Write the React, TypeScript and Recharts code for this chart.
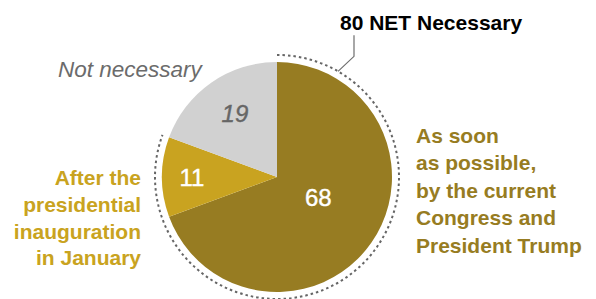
import React from 'react';
import { PieChart, Pie, Cell } from 'recharts';

const categories = ['As soon as possible, by the current Congress and President Trump', 'After the presidential inauguration in January', 'Not necessary'];
const values = [68, 11, 19];
const netNecessaryValue = 80;
const netLabel = `${netNecessaryValue} NET Necessary`;
const leftLabelLines = ['After the', 'presidential', 'inauguration', 'in January'];
const rightLabelLines = ['As soon', 'as possible,', 'by the current', 'Congress and', 'President Trump'];
const notNecessaryLabel = 'Not necessary';

const COLORS = ['#977c22', '#c9a320', '#d1d1d1'];
const LABEL_COLORS = ['#ffffff', '#ffffff', '#666666'];
const LABEL_ITALIC = [false, false, true];
const LABEL_R = [0.4, 0.74, 0.665];
const LABEL_ANGLE_ADJ = [9, 0, -1.5];

const FONT = '"Liberation Sans", Arial, sans-serif';

const data = categories.map((name, i) => ({ name, value: values[i] }));
const ringData = [
  { name: 'Necessary', value: values[0] + values[1], dotted: true },
  { name: 'Not necessary', value: values[2], dotted: false },
];

const RAD = Math.PI / 180;
const polar = (cx: number, cy: number, r: number, a: number) => ({
  x: cx + Math.cos(-a * RAD) * r,
  y: cy + Math.sin(-a * RAD) * r,
});

const renderSliceLabel = (props: any) => {
  const { cx, cy, midAngle, outerRadius, index, value } = props;
  const p = polar(cx, cy, outerRadius * LABEL_R[index], midAngle + LABEL_ANGLE_ADJ[index]);
  return (
    <text
      x={p.x}
      y={p.y}
      fill={LABEL_COLORS[index]}
      fontFamily={FONT}
      fontSize={24}
      fontStyle={LABEL_ITALIC[index] ? 'italic' : 'normal'}
      textAnchor="middle"
      dominantBaseline="central"
      stroke={LABEL_COLORS[index]}
      strokeWidth={0.4}
    >
      {value}
    </text>
  );
};

const DottedArc = (props: any) => {
  const { cx, cy, outerRadius, startAngle, endAngle, payload } = props;
  if (!payload || !payload.dotted) return <g />;
  const s = polar(cx, cy, outerRadius, startAngle);
  const e = polar(cx, cy, outerRadius, endAngle);
  const large = Math.abs(endAngle - startAngle) > 180 ? 1 : 0;
  const sweep = startAngle > endAngle ? 1 : 0;
  const lp = polar(cx, cy, outerRadius, 60);
  const elbow = { x: lp.x + 16, y: lp.y - 15 };
  return (
    <g>
      <path
        d={`M${s.x},${s.y} A${outerRadius},${outerRadius} 0 ${large} ${sweep} ${e.x},${e.y}`}
        fill="none"
        stroke="#666666"
        strokeWidth={2}
        strokeDasharray="2.5 3"
      />
      <polyline
        points={`${lp.x},${lp.y} ${elbow.x},${elbow.y} ${elbow.x},${elbow.y - 21}`}
        fill="none"
        stroke="#6e6e6e"
        strokeWidth={1.2}
      />
    </g>
  );
};

export default function App() {
  return (
    <div style={{ position: 'absolute', left: 0, top: 0, width: 596, height: 299, background: '#fff' }}>
      <PieChart width={596} height={299} margin={{ top: 0, right: 0, bottom: 0, left: 0 }}>
        <Pie
          data={ringData}
          dataKey="value"
          cx={277}
          cy={177}
          innerRadius={122}
          outerRadius={122}
          startAngle={90}
          endAngle={-270}
          stroke="none"
          isAnimationActive={false}
          shape={DottedArc}
        />
        <Pie
          data={data}
          dataKey="value"
          cx={277}
          cy={177}
          innerRadius={0}
          outerRadius={115}
          startAngle={90}
          endAngle={-270}
          stroke="none"
          isAnimationActive={false}
          label={renderSliceLabel}
          labelLine={false}
        >
          {data.map((d, i) => (
            <Cell key={d.name} fill={COLORS[i]} stroke="none" />
          ))}
        </Pie>
      </PieChart>
      <svg width={596} height={299} style={{ position: 'absolute', left: 0, top: 0, pointerEvents: 'none' }}>
        <text x={340} y={30} fontFamily={FONT} fontWeight="bold" fontSize={21} fill="#000">
          {netLabel}
        </text>
        <text x={58} y={77} fontFamily={FONT} fontStyle="italic" fontSize={22.5} fill="#6b6b6b">
          {notNecessaryLabel}
        </text>
        {leftLabelLines.map((t, i) => (
          <text key={t} x={141} y={185 + i * 26.8} textAnchor="end" fontFamily={FONT} fontWeight="bold" fontSize={21} fill={COLORS[1]}>
            {t}
          </text>
        ))}
        {rightLabelLines.map((t, i) => (
          <text key={t} x={416} y={142.5 + i * 27.6} fontFamily={FONT} fontWeight="bold" fontSize={21} fill={COLORS[0]}>
            {t}
          </text>
        ))}
      </svg>
    </div>
  );
}
